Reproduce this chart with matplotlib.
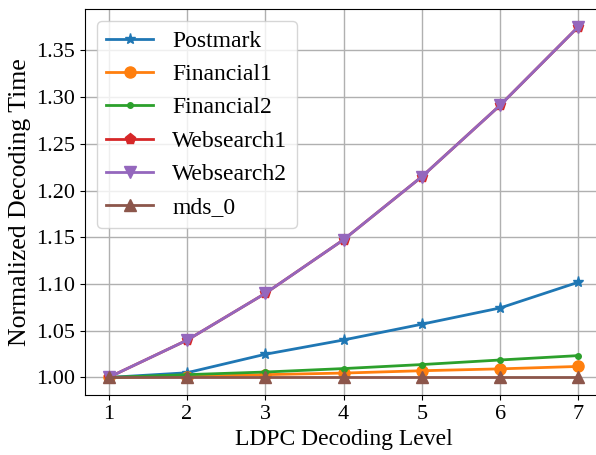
import numpy as np
import matplotlib
matplotlib.use('Agg')
import matplotlib.pyplot as plt

plt.rcParams.update({
    'font.family': 'serif',
    'font.serif': ['Liberation Serif', 'DejaVu Serif'],
    'font.size': 16,
    'mathtext.fontset': 'stix',
})

# LDPC decoding level
levels = [1, 2, 3, 4, 5, 6, 7]

# Normalized decoding time per trace
postmark = [1.000, 1.005, 1.0248, 1.0401, 1.0570, 1.0744, 1.1020]
financial1 = [1.000, 1.001, 1.003, 1.0047, 1.0072, 1.0092, 1.0118]
financial2 = [1.000, 1.003, 1.0058, 1.0095, 1.0138, 1.0187, 1.0234]
websearch1 = [1.000, 1.0398, 1.0899, 1.1474, 1.2149, 1.2914, 1.3756]
websearch2 = [1.000, 1.0398, 1.0899, 1.1474, 1.2149, 1.2914, 1.3756]
mds_0 = [1.000, 1.000, 1.000, 1.000, 1.000, 1.000, 1.000]

fig = plt.figure(figsize=(5.96, 4.55), dpi=100)
ax = fig.add_axes([85 / 596, 60 / 455, 517 / 596, 386 / 455])

ax.plot(levels, postmark, marker='*', color='#1f77b4', lw=2, ms=8, label='Postmark')
ax.plot(levels, financial1, marker='o', color='#ff7f0e', lw=2, ms=8, label='Financial1')
ax.plot(levels, financial2, marker='.', color='#2ca02c', lw=2, ms=8, label='Financial2')
ax.plot(levels, websearch1, marker='p', color='#d62728', lw=2, ms=8, label='Websearch1')
ax.plot(levels, websearch2, marker='v', color='#9467bd', lw=2, ms=8, label='Websearch2')
ax.plot(levels, mds_0, marker='^', color='#8c564b', lw=2, ms=8, label='mds_0')

ax.set_xticks(levels)
ax.set_yticks([1.00, 1.05, 1.10, 1.15, 1.20, 1.25, 1.30, 1.35])
ax.set_xlabel('LDPC Decoding Level', fontsize=17, labelpad=4)
ax.set_ylabel('Normalized Decoding Time', fontsize=18.5, labelpad=4)
ax.tick_params(labelsize=16)
ax.grid(True, color='#b0b0b0', lw=1)
ax.set_axisbelow(True)
ax.legend(loc='upper left', fontsize=17)

fig.savefig('out.png', dpi=100)
